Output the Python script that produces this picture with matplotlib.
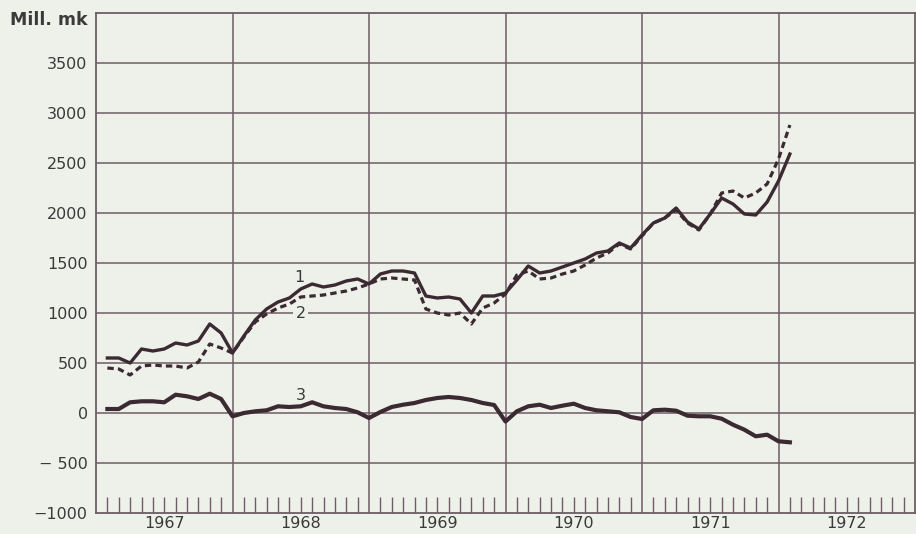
import numpy as np
import matplotlib
matplotlib.use("Agg")
import matplotlib.pyplot as plt

plt.rcParams['font.family'] = ['DejaVu Sans']

# ---- data (monthly, Feb 1967 .. Feb 1972 end-of-month positions) ----
n_months = 61
series1 = [550, 550, 500, 640, 620, 640, 700, 680, 720, 890, 800, 600,
           770, 930, 1040, 1110, 1150, 1240, 1290, 1260, 1280, 1320, 1340, 1290,
           1390, 1420, 1420, 1400, 1170, 1150, 1160, 1140, 1000, 1170, 1170, 1200,
           1330, 1470, 1400, 1420, 1460, 1500, 1540, 1600, 1620, 1700, 1650, 1780,
           1900, 1950, 2050, 1910, 1840, 1990, 2150, 2090, 1990, 1980, 2110, 2320, 2590]
series2 = [450, 440, 380, 470, 480, 470, 470, 450, 510, 690, 650, 600,
           760, 910, 990, 1050, 1090, 1160, 1170, 1180, 1200, 1220, 1250, 1290,
           1340, 1350, 1340, 1330, 1040, 1000, 980, 1000, 890, 1050, 1100, 1190,
           1380, 1420, 1340, 1350, 1390, 1420, 1480, 1550, 1600, 1690, 1640, 1770,
           1900, 1950, 2030, 1900, 1830, 1990, 2200, 2220, 2150, 2200, 2290, 2540, 2880]
series3 = [40, 40, 107, 117, 117, 107, 183, 167, 140, 193, 140, -33,
           0, 17, 27, 67, 60, 67, 107, 67, 50, 40, 7, -50,
           10, 60, 83, 100, 130, 150, 160, 150, 130, 100, 80, -85,
           17, 67, 83, 50, 73, 93, 50, 27, 17, 7, -40, -60,
           27, 33, 23, -27, -33, -33, -57, -117, -167, -233, -217, -283, -293]
years = [1967, 1968, 1969, 1970, 1971, 1972]
ytick_vals = [-1000, -500, 0, 500, 1000, 1500, 2000, 2500, 3000, 3500]
ytick_labels = ["\u22121000", "\u2212 500", "0", "500", "1000", "1500", "2000", "2500", "3000", "3500"]
line_labels = ["1", "2", "3"]

x = years[0] + np.arange(1, n_months + 1) / 12.0

bg = '#eef0ea'
grid_c = '#6e5d66'
line_c = '#3b2a31'
text_c = '#3a3a3a'

fig = plt.figure(figsize=(9.16, 5.34), dpi=100, facecolor=bg)
ax = fig.add_axes([96/916, 1 - 513/534, 819/916, 500/534])
ax.set_facecolor(bg)
ax.set_xlim(years[0], years[-1] + 1)
ax.set_ylim(-1000, 4000)
ax.xaxis.remove_overlapping_locs = False

# grid
for v in ytick_vals[1:]:
    ax.axhline(v, color=grid_c, lw=1.1, zorder=1)
for yr in years[1:]:
    ax.axvline(yr, color=grid_c, lw=1.1, zorder=1)
for s in ax.spines.values():
    s.set_color(grid_c)
    s.set_linewidth(1.3)

# ticks
ax.set_yticks(ytick_vals)
ax.set_yticklabels(ytick_labels)
ax.set_xticks([y + 0.5 for y in years])
ax.set_xticklabels([str(y) for y in years])
months = [y + m / 12.0 for y in years for m in range(1, 12)]
ax.set_xticks(months, minor=True)
ax.tick_params(axis='both', which='major', length=0, labelsize=11.5, colors=text_c)
ax.tick_params(axis='y', pad=6)
ax.tick_params(axis='x', pad=2)
ax.tick_params(axis='x', which='minor', direction='in', length=11.5, width=1.0, color=grid_c)

# series
ax.plot(x, series1, color=line_c, lw=2.4, zorder=3, solid_joinstyle='round')
ax.plot(x, series2, color=line_c, lw=2.3, ls=(0, (2.0, 1.3)), zorder=3)
ax.plot(x, series3, color=line_c, lw=3.0, zorder=3, solid_joinstyle='round')

ax.text(1968.49, 1350, line_labels[0], fontsize=11.5, color=text_c, ha='center', va='center', zorder=4)
ax.text(1968.50, 990, line_labels[1], fontsize=11.5, color=text_c, ha='center', va='center', zorder=4,
        bbox=dict(boxstyle='square,pad=0.15', fc=bg, ec='none'))
ax.text(1968.50, 170, line_labels[2], fontsize=11.5, color=text_c, ha='center', va='center', zorder=4)

fig.text(10/916, 1 - 20/534, "Mill. mk", fontsize=12.5, color=text_c, ha='left', va='center',
         fontweight='semibold')

fig.savefig("out.png", dpi=100, facecolor=bg)
